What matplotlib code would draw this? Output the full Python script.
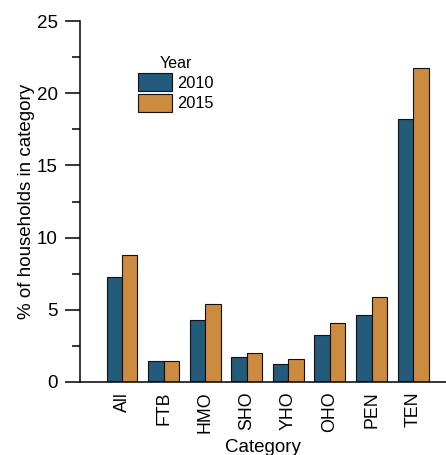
import numpy as np
import matplotlib.pyplot as plt
from matplotlib.ticker import MultipleLocator

categories = ["All", "FTB", "HMO", "SHO", "YHO", "OHO", "PEN", "TEN"]
years = ["2010", "2015"]
vals_2010 = [7.28, 1.43, 4.29, 1.75, 1.24, 3.27, 4.63, 18.2]
vals_2015 = [8.80, 1.47, 5.41, 2.00, 1.57, 4.08, 5.92, 21.73]

BLUE = "#245a7a"
ORANGE = "#cd8b40"
BAR_W = 0.372

plt.rcParams["font.family"] = ["Liberation Sans", "DejaVu Sans"]

fig = plt.figure(figsize=(4.46, 4.55), dpi=100)
ax = fig.add_axes([80 / 446, 73 / 455, 366 / 446, 361 / 455])

x = np.arange(len(categories))
ax.bar(x - BAR_W / 2, vals_2010, BAR_W, color=BLUE, edgecolor="#111111",
       linewidth=0.8, label=years[0])
ax.bar(x + BAR_W / 2, vals_2015, BAR_W, color=ORANGE, edgecolor="#111111",
       linewidth=0.8, label=years[1])

ax.set_xlim(-1.01, 7.79)
ax.set_ylim(0, 25)
ax.yaxis.set_major_locator(MultipleLocator(5))
ax.yaxis.set_minor_locator(MultipleLocator(2.5))
ax.tick_params(axis="y", which="major", length=11, width=1.1, labelsize=13.5, pad=5)
ax.tick_params(axis="y", which="minor", length=6, width=1.1)
ax.set_xticks(x)
ax.set_xticklabels(categories, rotation=90, fontsize=12.8)
ax.tick_params(axis="x", length=0, pad=7)

for s in ["top", "right"]:
    ax.spines[s].set_visible(False)
for s in ["left", "bottom"]:
    ax.spines[s].set_linewidth(1.1)

ax.set_ylabel("% of households in category", fontsize=13.5, labelpad=1)
ax.set_xlabel("Category", fontsize=13.5, labelpad=4)

leg = ax.legend(title="Year", loc="upper left", bbox_to_anchor=(0.126, 0.935),
                frameon=False, fontsize=11.8, title_fontsize=11.5,
                handlelength=2.1, handleheight=1.3, handletextpad=0.3,
                labelspacing=0.15, borderpad=0.2)

fig.savefig("out.png", dpi=100)
